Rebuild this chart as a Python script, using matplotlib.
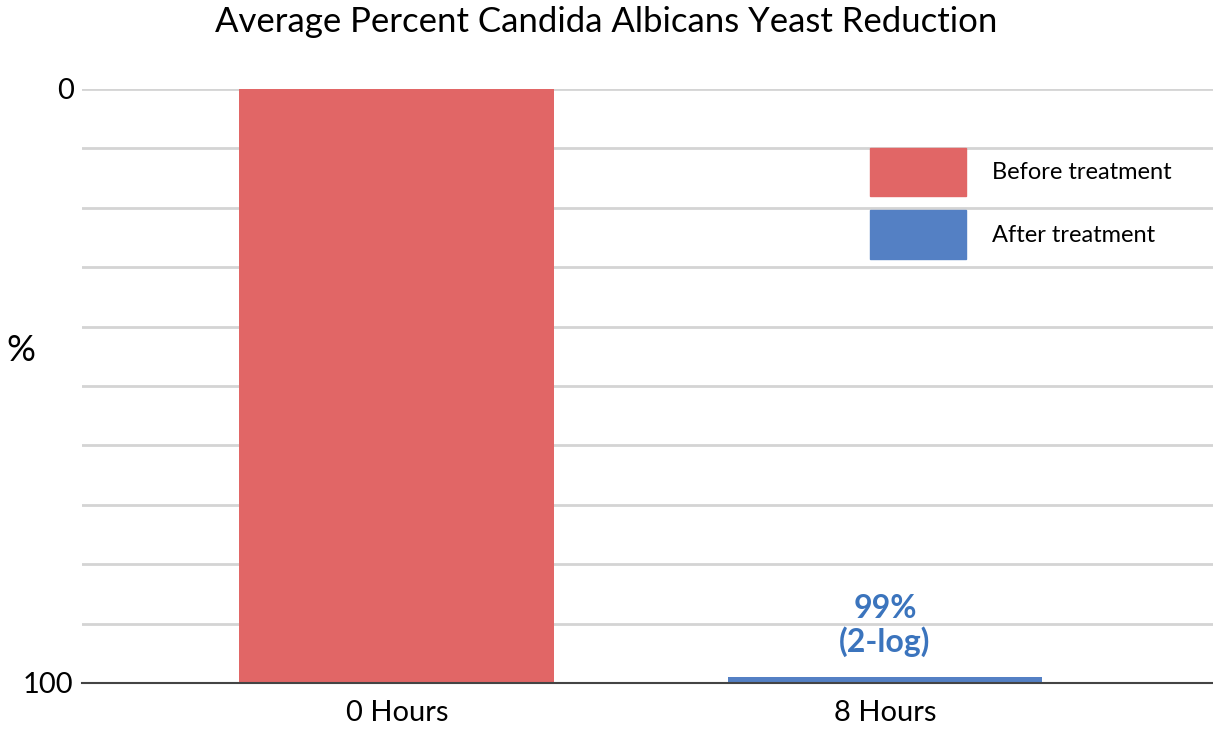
import numpy as np
import matplotlib
matplotlib.use('Agg')
import matplotlib.pyplot as plt
from matplotlib.patches import Patch

plt.rcParams['font.family'] = ['Lato', 'DejaVu Sans']

# data
categories = ['0 Hours', '8 Hours']
values = [100, 1]
series_names = ['Before treatment', 'After treatment']
grid_levels = np.arange(0, 101, 10)

red = '#e16666'
blue = '#5480c4'

fig = plt.figure(figsize=(12.13, 7.30), dpi=100)
ax = fig.add_axes([0.0676, 0.0644, 0.9324, 0.8137])

x = np.arange(len(categories))
ax.bar(x, values, width=0.645, color=[red, blue], zorder=3)

ax.set_xlim(-0.645, 1.672)
ax.set_ylim(0, 100)
ax.set_yticks(grid_levels)
ax.set_yticklabels(['100' if v == 0 else ('0' if v == 100 else '') for v in grid_levels], fontsize=21)
ax.set_xticks(x)
ax.set_xticklabels(categories, fontsize=21)
ax.tick_params(axis='x', length=0, pad=12)
ax.tick_params(axis='y', length=0, pad=6)
ax.grid(axis='y', color='#d4d4d4', linewidth=2, zorder=0)

for s in ['top', 'right', 'left']:
    ax.spines[s].set_visible(False)
ax.spines['bottom'].set_color('#444444')
ax.spines['bottom'].set_linewidth(1.5)
ax.spines['bottom'].set_zorder(4)

# annotation over the after bar
ax.text(x[1], values[1] + 3.3, '99%\n(2-log)', ha='center', va='bottom',
        fontsize=23, fontweight='bold', color='#3b74bd', linespacing=1.15)

handles = [Patch(color=red), Patch(color=blue)]
leg = ax.legend(handles, series_names, loc='upper left', bbox_to_anchor=(0.678, 0.937),
                frameon=False, fontsize=17, handlelength=4.07, handleheight=2.76,
                handletextpad=1.1, labelspacing=0.62)

fig.text(0.5, 0.97, 'Average Percent Candida Albicans Yeast Reduction',
         ha='center', va='center', fontsize=25)
fig.text(0.005, 0.52, '%', ha='left', va='center', fontsize=26)

fig.savefig('out.png', dpi=100)
